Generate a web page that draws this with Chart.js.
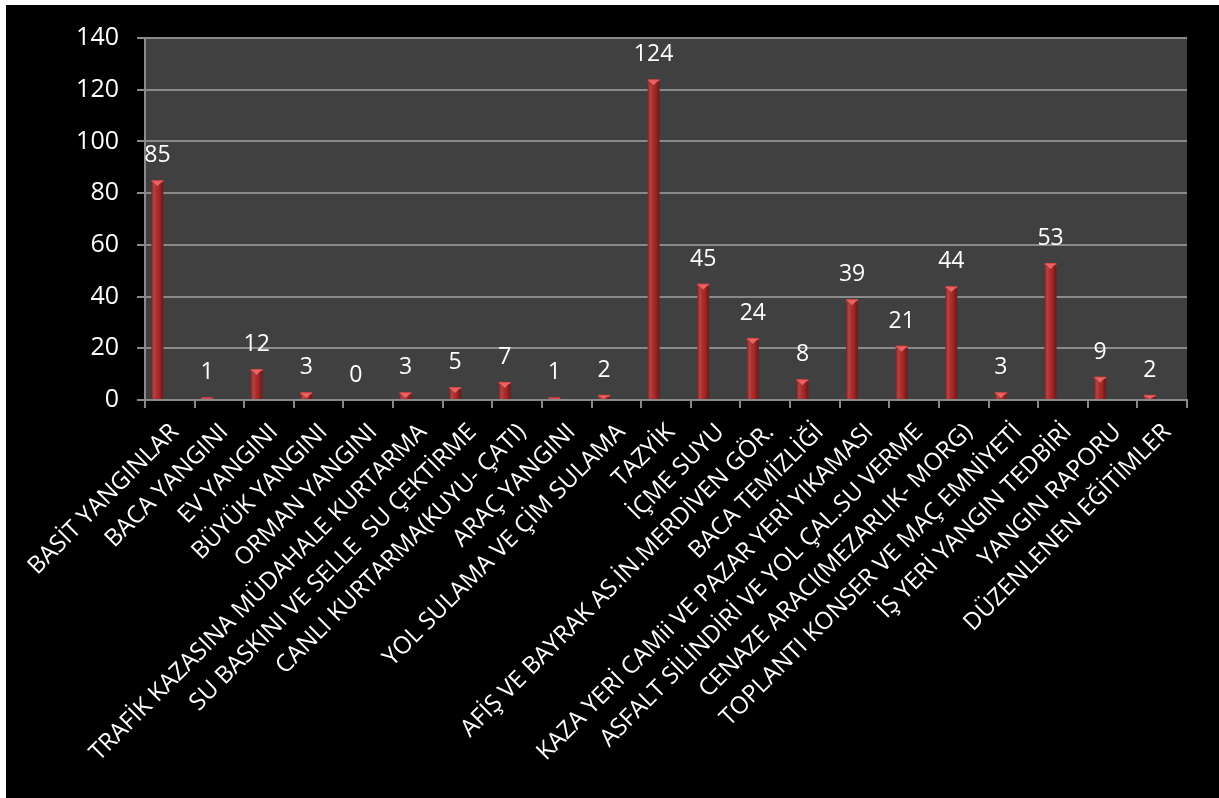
<!DOCTYPE html>
<html>
<head>
<meta charset="utf-8">
<script src="https://cdn.jsdelivr.net/npm/chart.js@4/dist/chart.umd.min.js"></script>
<style>
  html, body { margin: 0; padding: 0; background: #ffffff; }
  #wrap { position: absolute; left: 6px; top: 5px; width: 1213px; height: 793px; background: #000000; }
</style>
</head>
<body>
<div id="wrap"><canvas id="c"></canvas></div>
<script>
const categories = [
  'BASİT YANGINLAR',
  'BACA YANGINI',
  'EV YANGINI',
  'BÜYÜK YANGINI',
  'ORMAN YANGINI',
  'TRAFİK KAZASINA MÜDAHALE KURTARMA',
  'SU BASKINI VE SELLE  SU ÇEKTİRME',
  'CANLI KURTARMA(KUYU- ÇATI)',
  'ARAÇ YANGINI',
  'YOL SULAMA VE ÇİM SULAMA',
  'TAZYİK',
  'İÇME SUYU',
  'AFİŞ VE BAYRAK AS.İN.MERDİVEN GÖR.',
  'BACA TEMİZLİĞİ',
  'KAZA YERİ CAMii VE PAZAR YERİ YIKAMASI',
  'ASFALT SİLİNDİRİ VE YOL ÇAL.SU VERME',
  'CENAZE ARACI(MEZARLIK- MORG)',
  'TOPLANTI KONSER VE MAÇ EMNİYETİ',
  'İŞ YERİ YANGIN TEDBİRİ',
  'YANGIN RAPORU',
  'DÜZENLENEN EĞİTİMLER'
];
const values = [85, 1, 12, 3, 0, 3, 5, 7, 1, 2, 124, 45, 24, 8, 39, 21, 44, 3, 53, 9, 2];
const yMin = 0;
const yMax = 140;
const yStep = 20;

const GRID = '#8a8a8a';
const FONT = "'Open Sans', 'DejaVu Sans', sans-serif";

const plotBg = {
  id: 'plotBg',
  beforeDraw(chart) {
    const { ctx, chartArea: a } = chart;
    ctx.save();
    ctx.fillStyle = '#404040';
    ctx.fillRect(a.left, a.top, a.right - a.left, a.bottom - a.top);
    ctx.restore();
  }
};

const barShade = {
  id: 'barShade',
  afterDatasetsDraw(chart) {
    const ctx = chart.ctx;
    const meta = chart.getDatasetMeta(0);
    ctx.save();
    meta.data.forEach((el, i) => {
      const w = el.width, x0 = el.x - w / 2, x1 = el.x + w / 2;
      const top = Math.min(el.y, el.base), bot = Math.max(el.y, el.base);
      const h = bot - top;
      if (h >= 0.5) {
        const g = ctx.createLinearGradient(x0, 0, x1, 0);
        g.addColorStop(0, 'rgba(0,0,0,0.30)');
        g.addColorStop(0.3, 'rgba(255,255,255,0.10)');
        g.addColorStop(0.55, 'rgba(0,0,0,0)');
        g.addColorStop(1, 'rgba(0,0,0,0.40)');
        ctx.fillStyle = g;
        ctx.fillRect(x0, top, w, h);
        ctx.fillStyle = '#d84a4a';
        ctx.fillRect(x0, top, w, Math.min(2, h));
        if (h > 4) {
          ctx.beginPath();
          ctx.moveTo(x0 + 1, top + 1);
          ctx.lineTo(x1 - 1, top + 1);
          ctx.lineTo(el.x, top + Math.min(6, h));
          ctx.closePath();
          ctx.fillStyle = '#ea6464';
          ctx.fill();
        }
      }
      ctx.fillStyle = '#ffffff';
      ctx.font = '23px ' + FONT;
      ctx.textAlign = 'center';
      ctx.textBaseline = 'alphabetic';
      ctx.fillText(String(values[i]), el.x, el.y - 18);
    });
    ctx.restore();
  }
};

new Chart(document.getElementById('c'), {
  type: 'bar',
  data: {
    labels: categories,
    datasets: [
      {
        label: 'Sayı',
        data: values,
        backgroundColor: '#ad2a2a',
        borderWidth: 0,
        categoryPercentage: 1.0,
        barPercentage: 0.48
      },
      {
        label: '',
        data: [],
        backgroundColor: 'rgba(0,0,0,0)',
        categoryPercentage: 1.0,
        barPercentage: 0.48
      }
    ]
  },
  options: {
    responsive: true,
    maintainAspectRatio: false,
    animation: false,
    layout: { padding: { top: 30, right: 32, left: 0, bottom: 0 } },
    plugins: {
      legend: { display: false },
      tooltip: { enabled: false },
      title: { display: false }
    },
    scales: {
      x: {
        grid: {
          display: true,
          drawOnChartArea: false,
          drawTicks: true,
          tickLength: 8,
          color: GRID,
          lineWidth: 2,
          offset: true
        },
        border: { display: true, color: GRID, width: 2 },
        ticks: {
          autoSkip: false,
          minRotation: 45,
          maxRotation: 45,
          color: '#ffffff',
          padding: 10,
          labelOffset: 5,
          font: { family: FONT, size: 24 }
        },
        afterFit(scale) { scale.height = 398; }
      },
      y: {
        min: yMin,
        max: yMax,
        ticks: {
          stepSize: yStep,
          color: '#ffffff',
          padding: 18,
          font: { family: FONT, size: 25 }
        },
        grid: {
          color: GRID,
          lineWidth: 2,
          tickLength: 8,
          drawTicks: true
        },
        border: { display: true, color: GRID, width: 2 },
        afterFit(scale) { scale.width = 139; }
      }
    }
  },
  plugins: [plotBg, barShade]
});
</script>
</body>
</html>
